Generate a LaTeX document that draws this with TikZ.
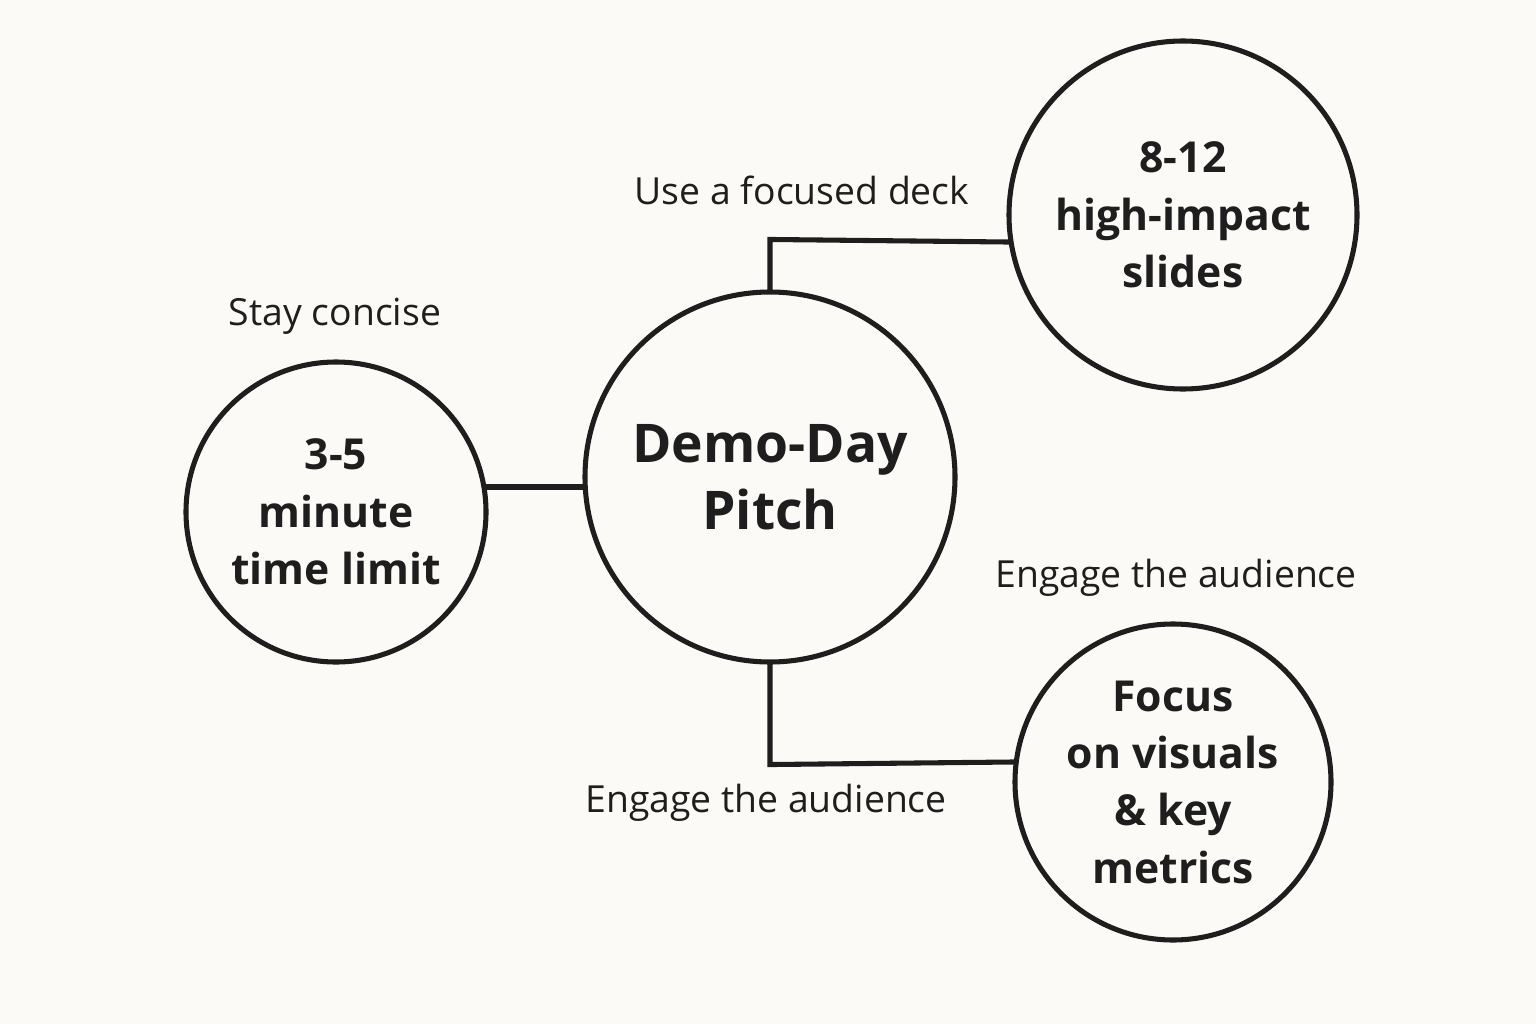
\documentclass[tikz,border=0pt]{standalone}
\usepackage{fontspec}
\setmainfont{Open Sans}
\definecolor{bg}{HTML}{FBFAF6}
\definecolor{ink}{HTML}{1E1E1E}
\begin{document}
\begin{tikzpicture}[x=0.75pt,y=-0.75pt,
  bubble/.style={circle,draw=ink,line width=3.8pt,inner sep=0pt,align=center,text=ink,font=\fontsize{32}{43}\selectfont\bfseries},
  lbl/.style={text=ink,font=\fontsize{28}{32}\selectfont},
  conn/.style={draw=ink,line width=3.8pt,shorten <=-2pt,shorten >=-2pt}]
\fill[bg] (0,0) rectangle (1536,1024);
\useasboundingbox (0,0) rectangle (1536,1024);
\node[bubble,minimum size=370*0.75pt,font=\fontsize{40}{50}\selectfont\bfseries] (c) at (770,477) {Demo-Day\\Pitch};
\node[bubble,minimum size=300*0.75pt] (l) at (336,512) {3-5\\minute\\time limit};
\node[bubble,minimum size=348*0.75pt] (tr) at (1183,215) {8-12\\high-impact\\slides};
\node[bubble,minimum size=316*0.75pt] (br) at (1173,782) {Focus\\on visuals\\\& key\\metrics};
\draw[conn] (l.east |- 0,487) -- (c.west |- 0,487);
\draw[conn] (c.north) -- ++(0,-50) -- (tr.west |- 0,242);
\draw[conn] (c.south) -- ++(0,100) -- (br.west |- 0,762);
\node[lbl] (s1) at (335,316) {Stay concise};
\node[lbl] (s2) at (802,190) {Use a focused deck};
\node[lbl] (s3) at (1176,578) {Engage the audience};
\node[lbl] (s4) at (766,803) {Engage the audience};
\end{tikzpicture}
\end{document}
